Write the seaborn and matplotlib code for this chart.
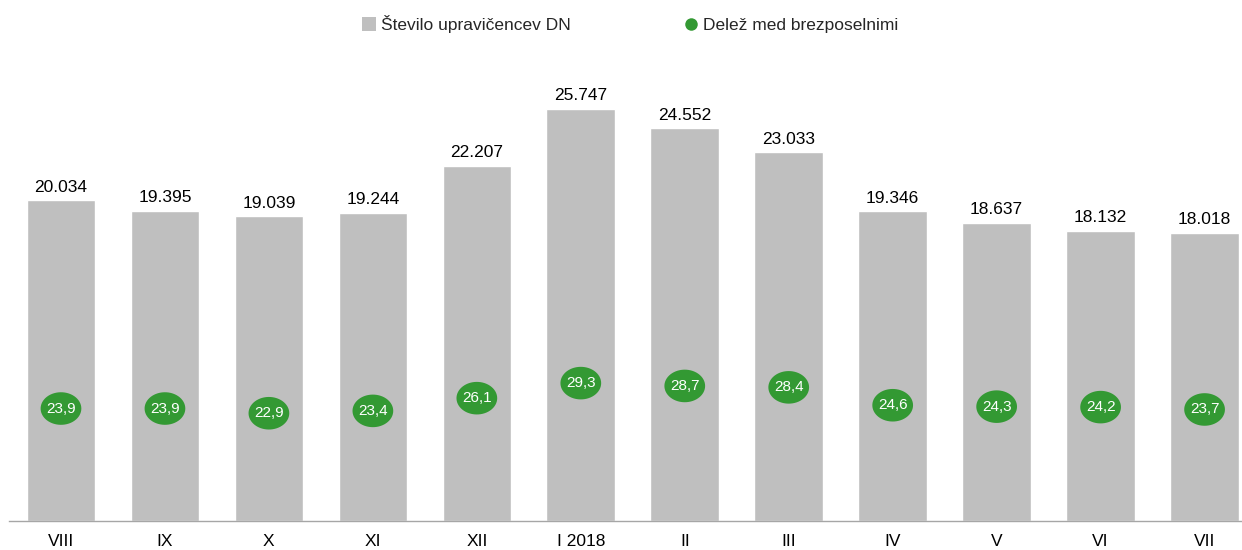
import numpy as np
import pandas as pd
import matplotlib.pyplot as plt
import seaborn as sns
from matplotlib.path import Path
from matplotlib.lines import Line2D
from matplotlib.patches import Patch

months = ["VIII", "IX", "X", "XI", "XII", "I 2018", "II", "III", "IV", "V", "VI", "VII"]
upravicenci = [20034, 19395, 19039, 19244, 22207, 25747, 24552, 23033, 19346, 18637, 18132, 18018]
delez = [23.9, 23.9, 22.9, 23.4, 26.1, 29.3, 28.7, 28.4, 24.6, 24.3, 24.2, 23.7]

BAR_COLOR = "#bfbfbf"
DOT_COLOR = "#339933"

sns.set_theme(style="white")
plt.rcParams['font.family'] = ['Liberation Sans', 'DejaVu Sans']

df = pd.DataFrame({"mesec": months, "st": upravicenci, "delez": delez})

fig = plt.figure(figsize=(12.42, 5.5), dpi=100)
ax = fig.add_axes([9 / 1242, 29 / 550, 1 - 9 / 1242, 480 / 550])

sns.barplot(data=df, x="mesec", y="st", color=BAR_COLOR, width=0.66,
            saturation=1, ax=ax)
ax.set_ylim(0, 30000)
ax.set_xlim(-0.5, 11.36)

for i, v in enumerate(upravicenci):
    ax.text(i, v + 350, f"{v:,}".replace(",", "."), ha="center", va="bottom",
            fontsize=12.5, color="black")

ax.set_xlabel("")
ax.set_ylabel("")
ax.set_yticks([])
ax.tick_params(axis="x", length=0, pad=9.5, labelsize=12.5, colors="black")
for s in ["top", "right", "left"]:
    ax.spines[s].set_visible(False)
ax.spines["bottom"].set_color("#a6a6a6")
ax.spines["bottom"].set_linewidth(1.0)

# elliptic marker for the share values
t = np.linspace(0, 2 * np.pi, 60)
ellipse = Path(np.column_stack([np.cos(t), 0.8 * np.sin(t)]), closed=True)

ax2 = ax.twinx()
sns.scatterplot(data=df, x="mesec", y="delez", marker=ellipse, s=860,
                color=DOT_COLOR, edgecolor="none", ax=ax2, zorder=3)
ax2.set_ylim(0, 102)
ax2.set_yticks([])
ax2.set_ylabel("")
for s in ["top", "right", "left", "bottom"]:
    ax2.spines[s].set_visible(False)
for i, v in enumerate(delez):
    ax2.text(i, v, f"{v:.1f}".replace(".", ","), ha="center", va="center",
             fontsize=11, color="white", zorder=4)

handles = [
    Patch(facecolor=BAR_COLOR, edgecolor="none", label="Število upravičencev DN"),
    Line2D([], [], marker="o", linestyle="none", markerfacecolor=DOT_COLOR,
           markeredgecolor="none", markersize=9, label="Delež med brezposelnimi"),
]
fig.legend(handles=handles, loc="center", bbox_to_anchor=(630 / 1242, 1 - 24 / 550),
           ncol=2, frameon=False, fontsize=12.5, columnspacing=6.5,
           handlelength=0.8, handleheight=0.8, handletextpad=0.3)

fig.savefig("out.png", dpi=100)
